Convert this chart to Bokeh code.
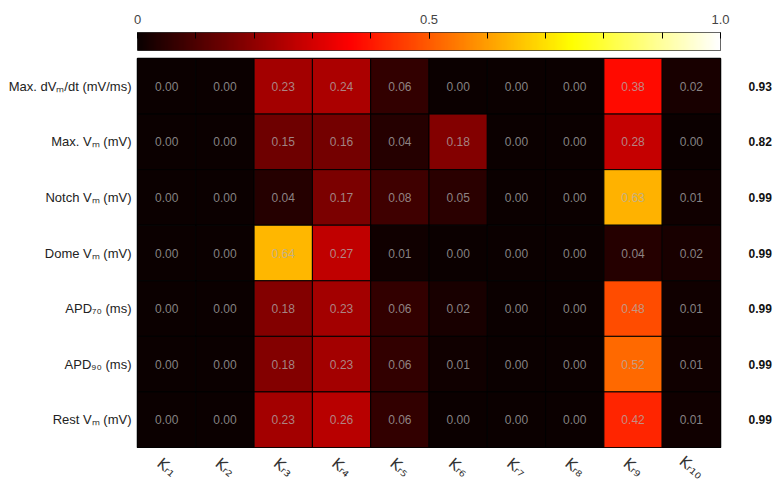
import numpy as np
from bokeh.plotting import figure
from bokeh.models import (Range1d, FixedTicker, LinearAxis, LinearColorMapper,
                          ColumnDataSource, Column)
from bokeh.core.properties import value
from bokeh.embed import file_html
from bokeh.resources import INLINE

# ---------------- data ----------------
rows = ["Max. dVₘ/dt (mV/ms)", "Max. Vₘ (mV)", "Notch Vₘ (mV)", "Dome Vₘ (mV)",
        "APD₇₀ (ms)", "APD₉₀ (ms)", "Rest Vₘ (mV)"]
cols = ["Kᵣ₁", "Kᵣ₂", "Kᵣ₃", "Kᵣ₄", "Kᵣ₅", "Kᵣ₆", "Kᵣ₇", "Kᵣ₈", "Kᵣ₉", "Kᵣ₁₀"]
row_dvdt  = [0.00, 0.00, 0.23, 0.24, 0.06, 0.00, 0.00, 0.00, 0.38, 0.02]
row_maxv  = [0.00, 0.00, 0.15, 0.16, 0.04, 0.18, 0.00, 0.00, 0.28, 0.00]
row_notch = [0.00, 0.00, 0.04, 0.17, 0.08, 0.05, 0.00, 0.00, 0.63, 0.01]
row_dome  = [0.00, 0.00, 0.64, 0.27, 0.01, 0.00, 0.00, 0.00, 0.04, 0.02]
row_apd70 = [0.00, 0.00, 0.18, 0.23, 0.06, 0.02, 0.00, 0.00, 0.48, 0.01]
row_apd90 = [0.00, 0.00, 0.18, 0.23, 0.06, 0.01, 0.00, 0.00, 0.52, 0.01]
row_rest  = [0.00, 0.00, 0.23, 0.26, 0.06, 0.00, 0.00, 0.00, 0.42, 0.01]
totals = [0.93, 0.82, 0.99, 0.99, 0.99, 0.99, 0.99]
cbar_ticks = [0.0, 0.5, 1.0]
cbar_tick_labels = ["0", "0.5", "1.0"]

matrix = [row_dvdt, row_maxv, row_notch, row_dome, row_apd70, row_apd90, row_rest]

# ---------------- "hot" colormap ----------------
def hot(t):
    r = np.interp(t, [0, 0.365079, 1], [0.0416, 1, 1])
    g = np.interp(t, [0, 0.365079, 0.746032, 1], [0, 0, 1, 1])
    b = np.interp(t, [0, 0.746032, 1], [0, 0, 1])
    return "#%02x%02x%02x" % (int(round(r * 255)), int(round(g * 255)), int(round(b * 255)))

palette = [hot(t) for t in np.linspace(0, 1, 256)]
mapper = LinearColorMapper(palette=palette, low=0, high=1)

FONT = "Liberation Sans"
W = 780
LEFT, RIGHT = 137, 60
n_rows, n_cols = len(rows), len(cols)
xr = Range1d(0, n_cols)

# ---------------- colour bar figure ----------------
pc = figure(width=W, height=55, x_range=Range1d(0, 1), y_range=Range1d(0, 1),
            toolbar_location=None, output_backend="svg", x_axis_location="above",
            y_axis_location=None, min_border_left=LEFT, min_border_right=RIGHT,
            min_border_top=32, min_border_bottom=5)
grad = np.linspace(0, 1, 256).reshape(1, 256)
pc.image(image=[grad], x=0, y=0, dw=1, dh=1, color_mapper=mapper)
pc.grid.visible = False
pc.outline_line_color = "#333333"
pc.outline_line_width = 1
ax = pc.xaxis[0]
ax.ticker = FixedTicker(ticks=cbar_ticks, minor_ticks=[0.1 * i for i in range(1, 10)])
ax.major_label_overrides = {float(t): l for t, l in zip(cbar_ticks, cbar_tick_labels)}
ax.axis_line_color = None
ax.major_tick_in = 6
ax.major_tick_out = 0
ax.minor_tick_in = 6
ax.minor_tick_out = 0
ax.major_tick_line_color = "black"
ax.minor_tick_line_color = "black"
ax.major_label_standoff = 9
ax.major_label_text_font = FONT
ax.major_label_text_font_size = "13px"
ax.major_label_text_color = "#444444"

# ---------------- heatmap figure ----------------
p = figure(width=W, height=393, x_range=xr, y_range=Range1d(0, n_rows),
           toolbar_location=None, output_backend="svg", x_axis_location=None,
           min_border_left=LEFT, min_border_right=RIGHT, min_border_top=3,
           min_border_bottom=1)
p.grid.visible = False
p.outline_line_color = "black"
p.outline_line_width = 1.5

xs, ys, vals, txt = [], [], [], []
for i, row in enumerate(matrix):
    for j, v in enumerate(row):
        xs.append(j + 0.5)
        ys.append(n_rows - i - 0.5)
        vals.append(v)
        txt.append("%.2f" % v)
src = ColumnDataSource(dict(x=xs, y=ys, v=vals, t=txt))
p.rect(x="x", y="y", width=1, height=1, source=src,
       fill_color={"field": "v", "transform": mapper}, line_color="black", line_width=1)
p.text(x="x", y="y", text="t", source=src, text_align="center", text_baseline="middle",
       text_font=value(FONT), text_font_size="12px", text_color="#b0b0b0", text_alpha=0.75)

ycent = [n_rows - i - 0.5 for i in range(n_rows)]
xcent = [j + 0.5 for j in range(n_cols)]

ya = p.yaxis[0]
ya.ticker = FixedTicker(ticks=ycent)
ya.major_label_overrides = {float(y): r for y, r in zip(ycent, rows)}
ya.axis_line_color = None
ya.major_tick_line_color = None
ya.minor_tick_line_color = None
ya.major_tick_out = 0
ya.major_tick_in = 0
ya.major_label_standoff = 6
ya.major_label_text_font = FONT
ya.major_label_text_font_size = "13px"
ya.major_label_text_color = "#222222"

ra = LinearAxis(ticker=FixedTicker(ticks=ycent),
                major_label_overrides={float(y): "%.2f" % t for y, t in zip(ycent, totals)})
ra.axis_line_color = None
ra.major_tick_line_color = None
ra.minor_tick_line_color = None
ra.major_tick_out = 0
ra.major_tick_in = 0
ra.major_label_standoff = 28
ra.major_label_text_font = FONT
ra.major_label_text_font_size = "12px"
ra.major_label_text_font_style = "bold"
ra.major_label_text_color = "#111111"
p.add_layout(ra, "right")

# ---------------- column labels (rotated) ----------------
pl = figure(width=W, height=44, x_range=xr, y_range=Range1d(0, 1),
            toolbar_location=None, output_backend="svg", x_axis_location=None,
            y_axis_location=None, min_border_left=LEFT, min_border_right=RIGHT,
            min_border_top=0, min_border_bottom=0)
pl.grid.visible = False
pl.outline_line_color = None
lsrc = ColumnDataSource(dict(x=xcent, y=[0.57] * n_cols, t=cols))
pl.text(x="x", y="y", text="t", source=lsrc, angle=-0.7, text_align="center",
        text_baseline="middle", text_font=value("DejaVu Sans"), text_font_size="15px",
        text_color="#333333")

layout = Column(pc, p, pl, spacing=0)
open("out.html", "w").write(file_html(layout, INLINE))
